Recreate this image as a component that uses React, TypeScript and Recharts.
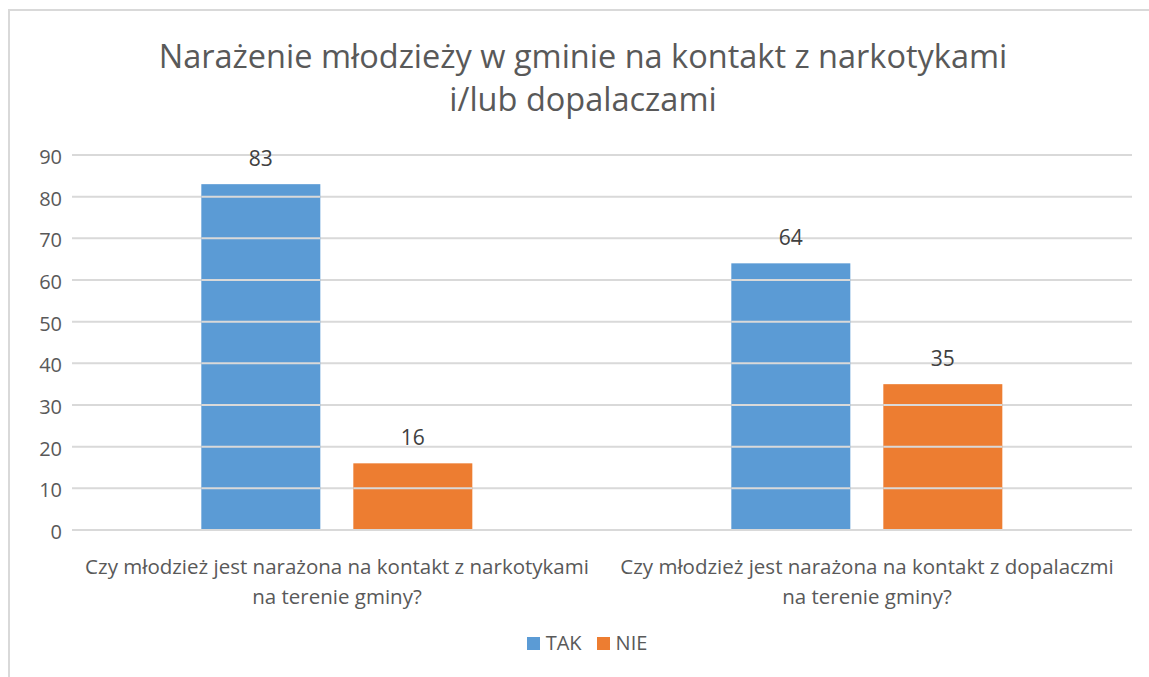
import React from "react";
import { BarChart, Bar, XAxis, YAxis, CartesianGrid, LabelList } from "recharts";

const categories = [
  "Czy młodzież jest narażona na kontakt z narkotykami\nna terenie gminy?",
  "Czy młodzież jest narażona na kontakt z dopalaczmi\nna terenie gminy?",
];
const takValues = [83, 64];
const nieValues = [16, 35];
const yTicks = [0, 10, 20, 30, 40, 50, 60, 70, 80, 90];
const titleLines = ["Narażenie młodzieży w gminie na kontakt z narkotykami", "i/lub dopalaczami"];
const seriesNames = ["TAK", "NIE"];
const seriesColors = ["#5B9BD5", "#ED7D31"];

const data = categories.map((c, i) => ({ name: c, TAK: takValues[i], NIE: nieValues[i] }));

const FONT = "'Open Sans', sans-serif";
const TEXT = "#595959";
const GRID = "#d9d9d9";

const CategoryTick = (props: any) => {
  const { x, y, payload } = props;
  const lines = String(payload.value).split("\n");
  return (
    <text x={x} y={y} textAnchor="middle" fill={TEXT} fontFamily={FONT} fontSize={20.5}>
      {lines.map((l: string, i: number) => (
        <tspan key={i} x={x} dy={i === 0 ? 36 : 30}>
          {l}
        </tspan>
      ))}
    </text>
  );
};

const ValueTick = (props: any) => {
  const { x, y, payload } = props;
  return (
    <text x={x} y={y + 2} dy="0.355em" textAnchor="end" fill={TEXT} fontFamily={FONT} fontSize={20}>
      {payload.value}
    </text>
  );
};

// Bar shape that lets the gridlines show across the bar, as in the reference.
const GridBar = (props: any) => {
  const { x, y, width, height, fill, value } = props;
  const v = Array.isArray(value) ? value[1] - value[0] : value;
  const bottom = y + height;
  const pxPerUnit = v ? height / v : 0;
  return (
    <g>
      <rect x={x} y={y} width={width} height={height} fill={fill} />
      {yTicks
        .filter((t) => t > 0 && t < v)
        .map((t) => {
          const ly = bottom - t * pxPerUnit;
          return <line key={t} x1={x} x2={x + width} y1={ly} y2={ly} stroke={GRID} strokeWidth={2} />;
        })}
    </g>
  );
};

export default function App() {
  return (
    <div style={{ position: "absolute", left: 0, top: 0, width: 1149, height: 677, overflow: "hidden", background: "#fff" }}>
      <div
        style={{
          position: "absolute",
          left: 8,
          top: 9,
          width: 1300,
          height: 800,
          border: "2px solid #d9d9d9",
          boxSizing: "border-box",
        }}
      />
      <div
        style={{
          position: "absolute",
          left: 0,
          top: 34,
          width: 1166,
          textAlign: "center",
          fontFamily: FONT,
          fontSize: 32.5,
          lineHeight: "43px",
          color: TEXT,
        }}
      >
        {titleLines.map((t, i) => (
          <div key={i}>{t}</div>
        ))}
      </div>
      <div style={{ position: "absolute", left: 0, top: 0 }}>
        <BarChart
          width={1149}
          height={677}
          data={data}
          margin={{ top: 155, right: 17, bottom: 0, left: 10 }}
          barCategoryGap="24.4%"
          barGap={33}
        >
          <CartesianGrid vertical={false} stroke={GRID} strokeWidth={2} />
          <XAxis
            dataKey="name"
            axisLine={{ stroke: GRID, strokeWidth: 2 }}
            tickLine={false}
            tick={<CategoryTick />}
            interval={0}
            height={147}
          />
          <YAxis
            domain={[0, 90]}
            ticks={yTicks}
            width={62}
            axisLine={false}
            tickLine={false}
            tickSize={0}
            tickMargin={10}
            tick={<ValueTick />}
          />
          <Bar dataKey="TAK" fill={seriesColors[0]} shape={<GridBar />} isAnimationActive={false}>
            <LabelList dataKey="TAK" position="top" offset={18} fill="#404040" fontFamily={FONT} fontSize={21} />
          </Bar>
          <Bar dataKey="NIE" fill={seriesColors[1]} shape={<GridBar />} isAnimationActive={false}>
            <LabelList dataKey="NIE" position="top" offset={18} fill="#404040" fontFamily={FONT} fontSize={21} />
          </Bar>
        </BarChart>
      </div>
      <div
        style={{
          position: "absolute",
          left: 0,
          top: 629,
          width: 1174,
          display: "flex",
          justifyContent: "center",
          fontFamily: FONT,
          fontSize: 20,
          color: TEXT,
          lineHeight: "28px",
        }}
      >
        {seriesNames.map((n, i) => (
          <div key={n} style={{ display: "flex", alignItems: "center", marginRight: i === 0 ? 15 : 0 }}>
            <span style={{ display: "inline-block", width: 13, height: 13, background: seriesColors[i], marginRight: 6 }} />
            <span>{n}</span>
          </div>
        ))}
      </div>
    </div>
  );
}
